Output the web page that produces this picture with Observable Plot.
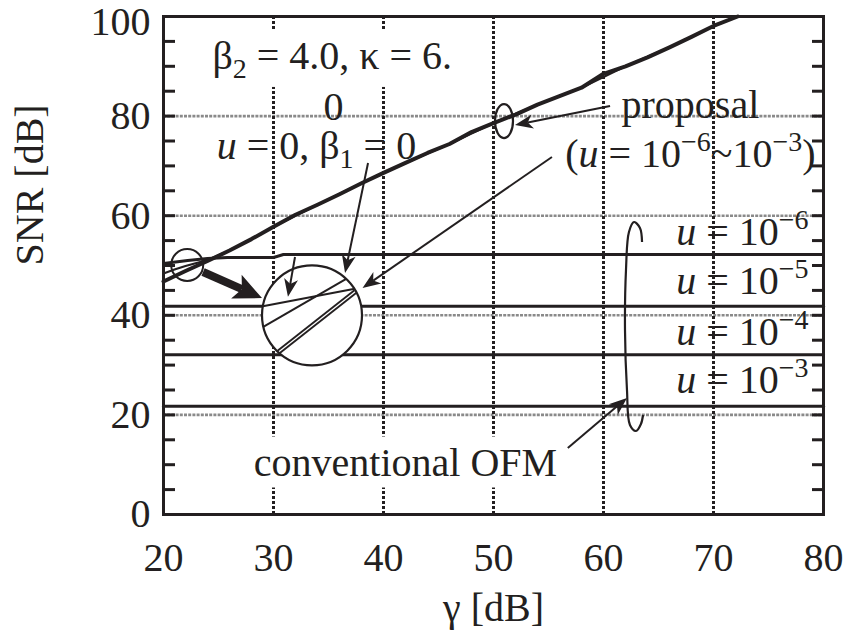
<!DOCTYPE html>
<html>
<head>
<meta charset="utf-8">
<script src="https://cdn.jsdelivr.net/npm/d3@7"></script>
<script src="https://cdn.jsdelivr.net/npm/@observablehq/plot@0.6"></script>
<style>
  body { margin: 0; background: #fff; }
  svg { display: block; }
</style>
</head>
<body>
<div id="chart"></div>
<script>
// ---- Axis ticks -----------------------------------------------------------
const xTicks = [20, 30, 40, 50, 60, 70, 80];
const yTicks = [0, 20, 40, 60, 80, 100];
const yMinorTicks = d3.range(0, 101, 5);

// ---- Proposal (u = 1e-6 ... 1e-3): SNR vs gamma ---------------------------
const gammaProposal = [20, 22, 24, 26, 28, 30, 32, 34, 36, 38, 40, 42, 44, 46, 48, 50, 52, 54, 56, 58, 60, 62, 64, 66, 68, 70, 72.2];
const snrProposal   = [46.8, 48.9, 50.9, 53.0, 55.3, 57.8, 60.2, 62.2, 64.3, 66.5, 68.6, 70.6, 72.6, 74.4, 76.8, 78.6, 80.3, 82.3, 84.0, 85.7, 88.5, 90.0, 91.8, 93.8, 95.9, 98.1, 100];

// ---- u = 0, beta1 = 0 -----------------------------------------------------
const gammaIdeal = [20, 21, 22, 23, 24, 26, 28, 30, 34, 38, 42, 46, 50, 54, 58, 62, 66, 70, 72.2];
const snrIdeal   = [48.4, 49.2, 49.9, 50.5, 51.1, 53.0, 55.3, 57.8, 62.2, 66.5, 70.6, 74.4, 78.6, 82.3, 85.7, 90.0, 93.8, 98.1, 100];

// ---- Conventional OFM ------------------------------------------------------
const convU6Gamma = [20, 22.2, 24, 25.8, 30, 30.9, 80];
const convU6Snr   = [50.4, 51.0, 51.4, 51.6, 51.6, 52.2, 52.2];
const convFlatU   = ["1e-5", "1e-4", "1e-3"];
const convFlatSnr = [41.8, 32.1, 21.75];
const gammaRange  = [20, 80];

// ---- Magnified inset (segments in gamma / SNR units) ----------------------
const insetCenter = [33.5, 40.0];
const zoomSpot    = [22.2, 50.0];
const insetConvX  = [29.03, 37.39], insetConvY  = [41.83, 45.32];
const insetIdealX = [29.03, 36.61], insetIdealY = [37.61, 47.33];
const insetPropX  = [30.43, 37.45], insetPropY  = [32.59, 44.78];

// ---- Callout arrows (tail -> head) -----------------------------------------
const arrowX1 = [38.64, 32.0, 55.36, 60.64, 56.8];
const arrowY1 = [70.48, 51.6, 71.69, 81.93, 13.25];
const arrowX2 = [36.55, 31.36, 38.14, 52.0, 62.18];
const arrowY2 = [48.39, 43.6, 45.38, 78.1, 23.3];
const zoomArrow = [[23.64, 48.6], [29.0, 43.37]];

// ---- Ellipse at gamma = 50 and the brace grouping the conventional curves --
const ellipseAt = [51.0, 78.9];
const braceGamma = [63.55, 63.36, 62.82, 62.36, 62.09, 62.0, 62.18, 62.45, 63.0, 63.45, 63.64];
const braceSnr   = [54.62, 57.43, 58.63, 56.63, 49.0, 36.95, 24.9, 17.87, 16.67, 18.07, 19.88];

// ---- Labels (*..* italic, _{..} subscript, ^{..} superscript) --------------
const labelText = [
  "β_{2} = 4.0, κ = 6.",
  "0",
  "*u* = 0, β_{1} = 0",
  "proposal",
  "(*u* = 10^{−6}~10^{−3})",
  "*u* = 10^{−6}",
  "*u* = 10^{−5}",
  "*u* = 10^{−4}",
  "*u* = 10^{−3}",
  "conventional OFM"
];
const labelGamma = [24.45, 35.45, 33.9, 67.9, 67.9, 78.64, 78.64, 78.64, 78.64, 42.0];
const labelSnr   = [92.0, 81.8, 74.0, 82.1, 72.4, 56.6, 46.8, 36.7, 26.9, 10.4];
const labelAlign = ["start", "middle", "middle", "middle", "middle", "end", "end", "end", "end", "middle"];
const boxedLabels = new Set(["β_{2} = 4.0, κ = 6.", "conventional OFM"]);

// ---- Tables built from the arrays ------------------------------------------
const ink = "#231f20";
const FS = 40;

const proposal = gammaProposal.map((g, i) => ({gamma: g, snr: snrProposal[i]}));
const ideal = gammaIdeal.map((g, i) => ({gamma: g, snr: snrIdeal[i]}));
const conventional = [
  ...convU6Gamma.map((g, i) => ({u: "1e-6", gamma: g, snr: convU6Snr[i]})),
  ...convFlatU.flatMap((u, k) => gammaRange.map(g => ({u, gamma: g, snr: convFlatSnr[k]})))
];
const labels = labelText.map((t, i) => ({text: t, gamma: labelGamma[i], snr: labelSnr[i], align: labelAlign[i]}));
const arrows = arrowX1.map((_, i) => ({x1: arrowX1[i], y1: arrowY1[i], x2: arrowX2[i], y2: arrowY2[i]}));
const brace = braceGamma.map((g, i) => [g, braceSnr[i]]);

// Filled, notched arrowhead plus shaft, in pixels
function arrowPaths(x1, y1, x2, y2, L, W, N) {
  const dx = x2 - x1, dy = y2 - y1, len = Math.hypot(dx, dy);
  const ux = dx / len, uy = dy / len, px = -uy, py = ux;
  const bx = x2 - ux * L, by = y2 - uy * L;
  const nx = x2 - ux * (L - N), ny = y2 - uy * (L - N);
  return {
    shaft: `M${x1},${y1}L${nx},${ny}`,
    head: `M${x2},${y2}L${bx + px * W},${by + py * W}L${nx},${ny}L${bx - px * W},${by - py * W}Z`
  };
}

// Callouts: small circle, ellipse, brace and arrows
function callouts(index, scales) {
  const {x, y} = scales;
  const g = d3.create("svg:g").attr("fill", "none").attr("stroke", ink);
  g.append("circle").attr("cx", x(zoomSpot[0])).attr("cy", y(zoomSpot[1])).attr("r", 16).attr("stroke-width", 2);
  g.append("ellipse").attr("cx", x(ellipseAt[0])).attr("cy", y(ellipseAt[1])).attr("rx", 9).attr("ry", 17).attr("stroke-width", 2.2);
  g.append("path")
    .attr("d", d3.line().x(d => x(d[0])).y(d => y(d[1])).curve(d3.curveCatmullRom)(brace))
    .attr("stroke-width", 2.2);
  for (const a of arrows) {
    const p = arrowPaths(x(a.x1), y(a.y1), x(a.x2), y(a.y2), 18, 7, 5);
    g.append("path").attr("d", p.shaft).attr("stroke-width", 2);
    g.append("path").attr("d", p.head).attr("fill", ink).attr("stroke", "none");
  }
  const t = arrowPaths(x(zoomArrow[0][0]), y(zoomArrow[0][1]), x(zoomArrow[1][0]), y(zoomArrow[1][1]), 28, 13, 6);
  g.append("path").attr("d", t.shaft).attr("stroke-width", 8);
  g.append("path").attr("d", t.head).attr("fill", ink).attr("stroke", "none");
  return g.node();
}

const labelMark = align => Plot.text(labels.filter(d => d.align === align), {
  x: "gamma", y: "snr", text: "text", textAnchor: align, fill: ink, fontSize: FS
});

const chart = Plot.plot({
  width: 845,
  height: 636,
  marginLeft: 163,
  marginRight: 22,
  marginTop: 16,
  marginBottom: 122,
  x: {domain: [20, 80]},
  y: {domain: [0, 100]},
  style: {fontFamily: "'Liberation Serif', 'Times New Roman', serif", fontSize: FS + "px", color: ink, background: "#fff"},
  marks: [
    // grid
    Plot.ruleY(yTicks.filter(v => v > 0 && v < 100), {stroke: "#8a8a8a", strokeWidth: 2.6, strokeDasharray: "3,1.2"}),
    Plot.ruleX(xTicks.filter(v => v > 20 && v < 80), {stroke: ink, strokeWidth: 3, strokeDasharray: "3,2"}),
    // conventional OFM
    Plot.line(conventional, {x: "gamma", y: "snr", z: "u", stroke: ink, strokeWidth: 3}),
    // u = 0, beta1 = 0 and the proposal
    Plot.line(ideal, {x: "gamma", y: "snr", stroke: ink, strokeWidth: 2.2}),
    Plot.line(proposal, {x: "gamma", y: "snr", stroke: ink, strokeWidth: 4}),
    // magnified inset
    Plot.dot([insetCenter], {x: d => d[0], y: d => d[1], r: 50, fill: "#fff", stroke: "none"}),
    Plot.link([0], {x1: () => insetConvX[0], x2: () => insetConvX[1], y1: () => insetConvY[0], y2: () => insetConvY[1], stroke: ink, strokeWidth: 2}),
    Plot.link([0], {x1: () => insetIdealX[0], x2: () => insetIdealX[1], y1: () => insetIdealY[0], y2: () => insetIdealY[1], stroke: ink, strokeWidth: 2}),
    Plot.link([0], {x1: () => insetPropX[0], x2: () => insetPropX[1], y1: () => insetPropY[0], y2: () => insetPropY[1], stroke: ink, strokeWidth: 5}),
    Plot.link([0], {x1: () => insetPropX[0], x2: () => insetPropX[1], y1: () => insetPropY[0], y2: () => insetPropY[1], stroke: "#fff", strokeWidth: 1.3}),
    Plot.dot([insetCenter], {x: d => d[0], y: d => d[1], r: 50, fill: "none", stroke: ink, strokeWidth: 2.2}),
    callouts,
    // labels
    labelMark("start"),
    labelMark("middle"),
    labelMark("end"),
    Plot.text(["γ [dB]"], {frameAnchor: "bottom", lineAnchor: "middle", dy: 94, fill: ink, fontSize: FS}),
    Plot.text(["SNR [dB]"], {frameAnchor: "left", lineAnchor: "middle", rotate: -90, dx: -133, fill: ink, fontSize: FS}),
    // frame, inward ticks, tick labels
    Plot.frame({stroke: ink, strokeWidth: 3}),
    Plot.axisY({anchor: "left", ticks: yMinorTicks, tickSize: -12, tickFormat: () => "", strokeWidth: 3, stroke: ink, label: null}),
    Plot.axisY({anchor: "right", ticks: yMinorTicks, tickSize: -12, tickFormat: () => "", strokeWidth: 3, stroke: ink, label: null}),
    Plot.axisY({anchor: "left", ticks: yTicks.filter(v => v < 100), tickSize: 0, tickPadding: 13, label: null, fill: ink}),
    Plot.axisY({anchor: "left", ticks: yTicks.filter(v => v === 100), tickSize: 0, tickPadding: 13, dy: 6, label: null, fill: ink}),
    Plot.axisX({anchor: "bottom", ticks: xTicks, tickSize: 0, tickPadding: 28, label: null, fill: ink})
  ]
});

document.getElementById("chart").appendChild(chart);

// Rich text: italics, subscripts and superscripts as tspans; white boxes behind some labels
const svgns = "http://www.w3.org/2000/svg";
function richify(el, base) {
  const raw = el.textContent;
  if (!/[*_^]/.test(raw)) return;
  const segs = [];
  let i = 0, italic = false, buf = "";
  const push = (text, shift) => { if (text) segs.push({text, italic, shift}); };
  while (i < raw.length) {
    const c = raw[i];
    if (c === "*") { push(buf, 0); buf = ""; italic = !italic; i++; }
    else if ((c === "_" || c === "^") && raw[i + 1] === "{") {
      push(buf, 0); buf = "";
      const end = raw.indexOf("}", i);
      push(raw.slice(i + 2, end), c === "^" ? -1 : 1);
      i = end + 1;
    } else { buf += c; i++; }
  }
  push(buf, 0);
  el.textContent = "";
  let cur = 0;
  for (const s of segs) {
    const t = document.createElementNS(svgns, "tspan");
    const target = s.shift === -1 ? -0.40 * base : s.shift === 1 ? 0.22 * base : 0;
    const dy = target - cur;
    cur = target;
    if (dy) t.setAttribute("dy", dy);
    if (s.shift) t.setAttribute("font-size", 0.7 * base);
    if (s.italic) t.setAttribute("font-style", "italic");
    t.textContent = s.text;
    el.appendChild(t);
  }
}
chart.querySelectorAll('g[aria-label="text"] text').forEach(el => {
  const raw = el.textContent;
  richify(el, FS);
  if (boxedLabels.has(raw)) {
    const bb = el.getBBox();
    const r = document.createElementNS(svgns, "rect");
    r.setAttribute("x", bb.x - 8);
    r.setAttribute("y", bb.y - 3);
    r.setAttribute("width", bb.width + 16);
    r.setAttribute("height", bb.height + 6);
    r.setAttribute("fill", "#fff");
    r.setAttribute("stroke", "none");
    if (el.getAttribute("transform")) r.setAttribute("transform", el.getAttribute("transform"));
    el.parentNode.insertBefore(r, el);
  }
});
</script>
</body>
</html>
